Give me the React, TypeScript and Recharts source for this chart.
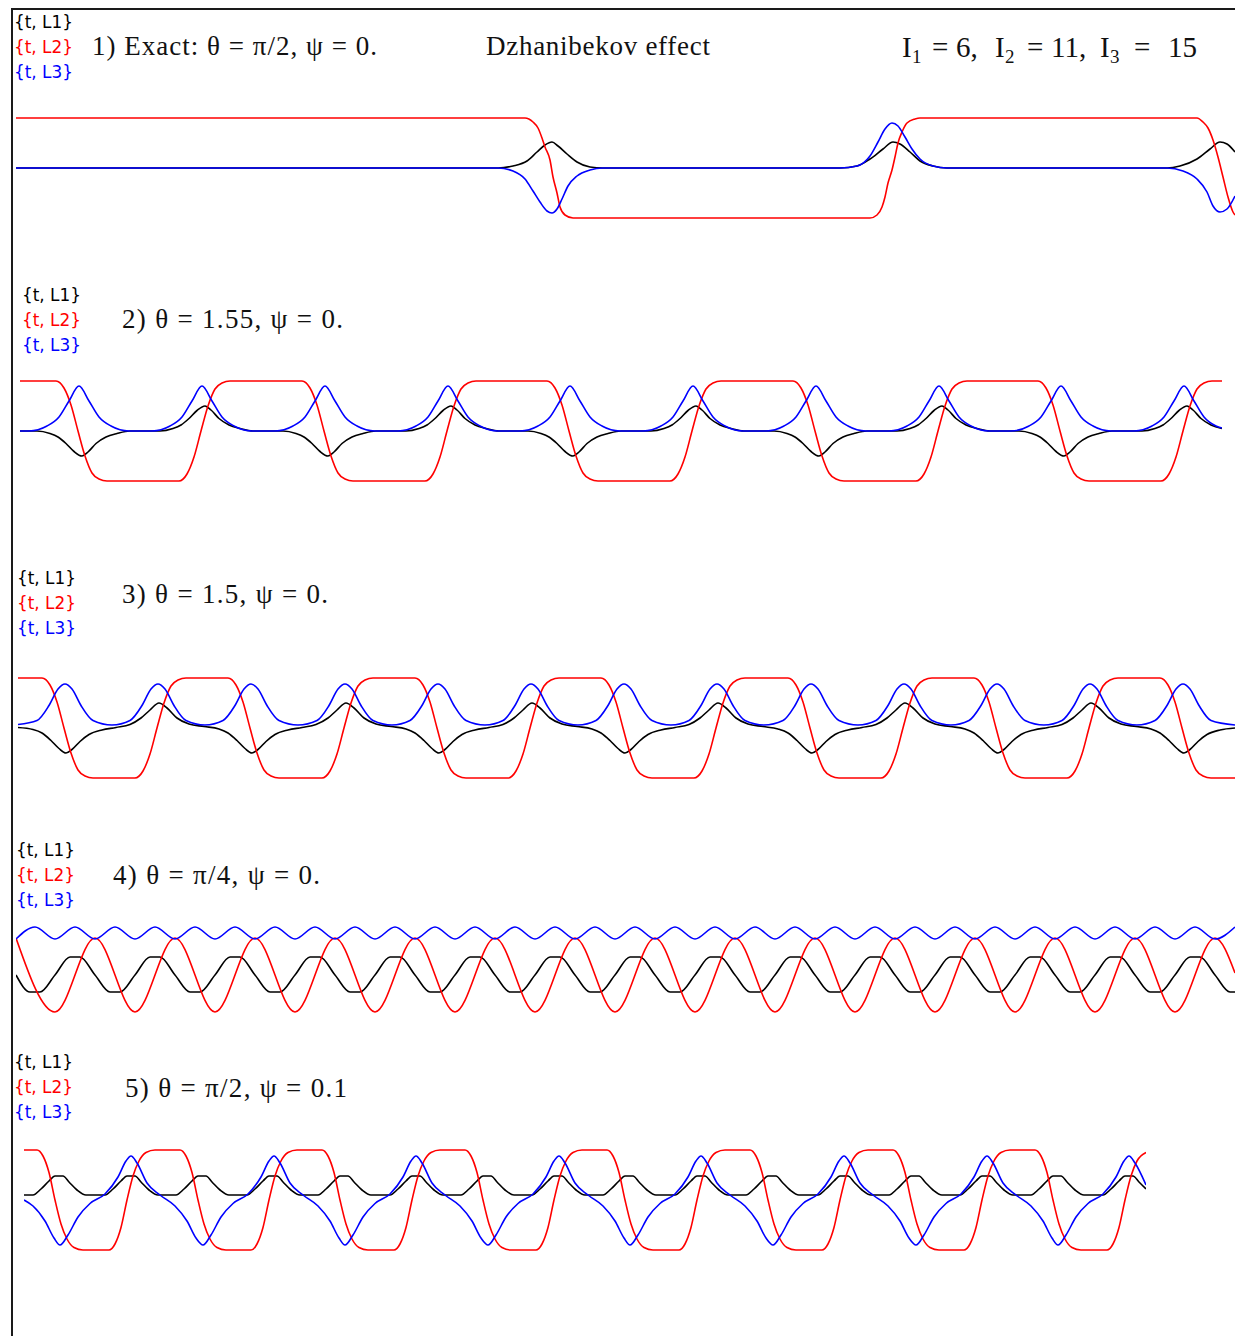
import React from 'react';
import { LineChart, Line, XAxis, YAxis } from 'recharts';

type Pt = [number, number];

// panel 1 — exact solution, theta = pi/2, psi = 0
const p1L1: Pt[] = [
  [0, 0], [48.2, 0], [49.7, 0.04], [51.1, 0.14], [52.1, 0.32], [52.9, 0.46], [53.6, 0.52], [54.2, 0.44], [55.1, 0.28], [56.1, 0.12], [57.4, 0.02], [58.7, 0],
  [82.4, 0], [84.1, 0.04], [85.4, 0.18], [86.7, 0.38], [87.7, 0.52], [88.4, 0.48], [89.4, 0.32], [90.4, 0.14], [91.7, 0.04], [93.1, 0],
  [115.1, 0], [116.4, 0.04], [118.1, 0.18], [119.4, 0.38], [120.4, 0.52], [121.1, 0.48], [121.9, 0.32],
];
const p1L2: Pt[] = [
  [0, 1], [50.9, 1], [51.7, 0.92], [52.2, 0.8], [52.6, 0.6], [52.9, 0.42], [53.4, 0.16], [53.7, -0.18], [54.1, -0.5], [54.4, -0.78], [54.9, -0.94], [55.7, -1],
  [85.4, -1], [86.1, -0.94], [86.6, -0.78], [86.9, -0.58], [87.2, -0.3], [87.6, -0.04], [87.9, 0.22], [88.2, 0.5], [88.6, 0.72], [89.1, 0.9], [89.9, 0.98], [90.4, 1],
  [118.1, 1], [118.7, 0.92], [119.2, 0.8], [119.7, 0.56], [120.2, 0.22], [120.7, -0.18], [121.2, -0.58], [121.7, -0.88], [121.9, -0.94],
];
const p1L3: Pt[] = [
  [0, 0], [48.2, 0], [49.7, -0.06], [50.9, -0.22], [51.7, -0.46], [52.4, -0.68], [53.1, -0.86], [53.6, -0.9], [54.1, -0.82], [54.6, -0.62], [55.2, -0.36], [56.1, -0.16], [57.4, -0.04], [58.7, 0],
  [82.4, 0], [84.1, 0.04], [85.4, 0.24], [86.2, 0.52], [86.9, 0.78], [87.6, 0.9], [88.2, 0.84], [88.9, 0.62], [89.6, 0.38], [90.4, 0.18], [91.7, 0.04], [93.1, 0],
  [115.1, 0], [116.7, -0.06], [118.1, -0.22], [119.1, -0.48], [119.7, -0.76], [120.4, -0.88], [121.1, -0.82], [121.9, -0.56],
];

// panel 2 — theta = 1.55
const p2L1: Pt[] = [
  [0, 0],
  [1.7, 0], [3.0, -0.05], [3.8, -0.12], [4.6, -0.25], [5.4, -0.41], [6.2, -0.5], [6.8, -0.42], [7.6, -0.25], [8.6, -0.12], [9.7, -0.05], [11.0, 0],
  [14.0, 0], [15.3, 0.05], [16.1, 0.12], [16.9, 0.25], [17.7, 0.41], [18.5, 0.5], [19.1, 0.42], [19.9, 0.25], [20.9, 0.12], [22.0, 0.05], [23.3, 0],
  [26.3, 0], [27.6, -0.05], [28.4, -0.12], [29.2, -0.25], [30.0, -0.41], [30.8, -0.5], [31.4, -0.42], [32.2, -0.25], [33.2, -0.12], [34.3, -0.05], [35.6, 0],
  [38.6, 0], [39.9, 0.05], [40.7, 0.12], [41.5, 0.25], [42.3, 0.41], [43.1, 0.5], [43.7, 0.42], [44.5, 0.25], [45.5, 0.12], [46.6, 0.05], [47.9, 0],
  [50.8, 0], [52.1, -0.05], [52.9, -0.12], [53.7, -0.25], [54.5, -0.41], [55.3, -0.5], [55.9, -0.42], [56.7, -0.25], [57.7, -0.12], [58.8, -0.05], [60.1, 0],
  [63.1, 0], [64.4, 0.05], [65.2, 0.12], [66.0, 0.25], [66.8, 0.41], [67.6, 0.5], [68.2, 0.42], [69.0, 0.25], [70.0, 0.12], [71.1, 0.05], [72.4, 0],
  [75.4, 0], [76.7, -0.05], [77.5, -0.12], [78.3, -0.25], [79.1, -0.41], [79.9, -0.5], [80.5, -0.42], [81.3, -0.25], [82.3, -0.12], [83.4, -0.05], [84.7, 0],
  [87.7, 0], [89.0, 0.05], [89.8, 0.12], [90.6, 0.25], [91.4, 0.41], [92.2, 0.5], [92.8, 0.42], [93.6, 0.25], [94.6, 0.12], [95.7, 0.05], [97.0, 0],
  [99.9, 0], [101.2, -0.05], [102.0, -0.12], [102.8, -0.25], [103.6, -0.41], [104.4, -0.5], [105.0, -0.42], [105.8, -0.25], [106.8, -0.12], [107.9, -0.05], [109.2, 0],
  [112.2, 0], [113.5, 0.05], [114.3, 0.12], [115.1, 0.25], [115.9, 0.41], [116.7, 0.5], [117.3, 0.42], [118.1, 0.25], [119.1, 0.12], [120.2, 0.05],
];
const p2L2: Pt[] = [
  [0, 1],
  [3.6, 1], [4.4, 0.86], [5.1, 0.52], [5.8, 0], [6.5, -0.5], [7.2, -0.84], [7.9, -0.96], [8.7, -1],
  [15.9, -1], [16.7, -0.86], [17.4, -0.52], [18.1, 0], [18.8, 0.5], [19.5, 0.84], [20.2, 0.96], [21.0, 1],
  [28.2, 1], [29.0, 0.86], [29.7, 0.52], [30.4, 0], [31.1, -0.5], [31.8, -0.84], [32.5, -0.96], [33.3, -1],
  [40.5, -1], [41.3, -0.86], [42.0, -0.52], [42.7, 0], [43.4, 0.5], [44.1, 0.84], [44.8, 0.96], [45.6, 1],
  [52.7, 1], [53.5, 0.86], [54.2, 0.52], [54.9, 0], [55.6, -0.5], [56.3, -0.84], [57.0, -0.96], [57.8, -1],
  [65.0, -1], [65.8, -0.86], [66.5, -0.52], [67.2, 0], [67.9, 0.5], [68.6, 0.84], [69.3, 0.96], [70.1, 1],
  [77.3, 1], [78.1, 0.86], [78.8, 0.52], [79.5, 0], [80.2, -0.5], [80.9, -0.84], [81.6, -0.96], [82.4, -1],
  [89.6, -1], [90.4, -0.86], [91.1, -0.52], [91.8, 0], [92.5, 0.5], [93.2, 0.84], [93.9, 0.96], [94.7, 1],
  [101.8, 1], [102.6, 0.86], [103.3, 0.52], [104.0, 0], [104.7, -0.5], [105.4, -0.84], [106.1, -0.96], [106.9, -1],
  [114.1, -1], [114.9, -0.86], [115.6, -0.52], [116.3, 0], [117.0, 0.5], [117.7, 0.84], [118.4, 0.96], [119.2, 1],
  [120.2, 1],
];
const p2L3: Pt[] = [
  [0, 0],
  [0.9, 0], [2.7, 0.1], [3.9, 0.28], [4.9, 0.6], [5.9, 0.9], [6.9, 0.6], [7.9, 0.28], [9.1, 0.1], [10.9, 0],
  [13.2, 0], [15.0, 0.1], [16.2, 0.28], [17.2, 0.6], [18.2, 0.9], [19.2, 0.6], [20.2, 0.28], [21.4, 0.1], [23.2, 0],
  [25.5, 0], [27.3, 0.1], [28.5, 0.28], [29.5, 0.6], [30.5, 0.9], [31.5, 0.6], [32.5, 0.28], [33.7, 0.1], [35.5, 0],
  [37.8, 0], [39.6, 0.1], [40.8, 0.28], [41.8, 0.6], [42.8, 0.9], [43.8, 0.6], [44.8, 0.28], [46.0, 0.1], [47.8, 0],
  [50.0, 0], [51.8, 0.1], [53.0, 0.28], [54.0, 0.6], [55.0, 0.9], [56.0, 0.6], [57.0, 0.28], [58.2, 0.1], [60.0, 0],
  [62.3, 0], [64.1, 0.1], [65.3, 0.28], [66.3, 0.6], [67.3, 0.9], [68.3, 0.6], [69.3, 0.28], [70.5, 0.1], [72.3, 0],
  [74.6, 0], [76.4, 0.1], [77.6, 0.28], [78.6, 0.6], [79.6, 0.9], [80.6, 0.6], [81.6, 0.28], [82.8, 0.1], [84.6, 0],
  [86.9, 0], [88.7, 0.1], [89.9, 0.28], [90.9, 0.6], [91.9, 0.9], [92.9, 0.6], [93.9, 0.28], [95.1, 0.1], [96.9, 0],
  [99.1, 0], [100.9, 0.1], [102.1, 0.28], [103.1, 0.6], [104.1, 0.9], [105.1, 0.6], [106.1, 0.28], [107.3, 0.1], [109.1, 0],
  [111.4, 0], [113.2, 0.1], [114.4, 0.28], [115.4, 0.6], [116.4, 0.9], [117.4, 0.6], [118.4, 0.28], [119.6, 0.1], [120.2, 0.06],
];

// panel 3 — theta = 1.5
const p3L1: Pt[] = [
  [0, 0.01], [1.5, -0.03], [2.4, -0.1], [3.3, -0.25], [4.1, -0.41],
  [4.8, -0.5], [5.4, -0.43], [6.2, -0.27], [7.1, -0.13], [8.4, -0.04], [9.8, 0.01], [11.2, 0.07], [12.3, 0.2], [13.2, 0.36], [14.1, 0.5], [14.9, 0.4], [15.9, 0.2], [17.1, 0.08], [18.6, 0.03], [20.1, -0.02], [21.0, -0.1], [21.9, -0.25], [22.7, -0.41],
  [23.4, -0.5], [24.0, -0.43], [24.8, -0.27], [25.7, -0.13], [27.0, -0.04], [28.4, 0.01], [29.8, 0.07], [31.0, 0.2], [31.9, 0.36], [32.8, 0.5], [33.6, 0.4], [34.6, 0.2], [35.8, 0.08], [37.3, 0.03], [38.8, -0.02], [39.7, -0.1], [40.6, -0.25], [41.4, -0.41],
  [42.1, -0.5], [42.7, -0.43], [43.5, -0.27], [44.4, -0.13], [45.7, -0.04], [47.1, 0.01], [48.5, 0.07], [49.6, 0.2], [50.5, 0.36], [51.4, 0.5], [52.2, 0.4], [53.2, 0.2], [54.4, 0.08], [55.9, 0.03], [57.4, -0.02], [58.3, -0.1], [59.2, -0.25], [60.0, -0.41],
  [60.7, -0.5], [61.3, -0.43], [62.1, -0.27], [63.0, -0.13], [64.3, -0.04], [65.7, 0.01], [67.1, 0.07], [68.2, 0.2], [69.1, 0.36], [70.0, 0.5], [70.8, 0.4], [71.8, 0.2], [73.0, 0.08], [74.5, 0.03], [76.0, -0.02], [77.0, -0.1], [77.9, -0.25], [78.7, -0.41],
  [79.4, -0.5], [80.0, -0.43], [80.8, -0.27], [81.7, -0.13], [83.0, -0.04], [84.4, 0.01], [85.8, 0.07], [86.9, 0.2], [87.8, 0.36], [88.7, 0.5], [89.5, 0.4], [90.5, 0.2], [91.7, 0.08], [93.2, 0.03], [94.7, -0.02], [95.6, -0.1], [96.5, -0.25], [97.3, -0.41],
  [98.0, -0.5], [98.6, -0.43], [99.4, -0.27], [100.3, -0.13], [101.6, -0.04], [103.0, 0.01], [104.4, 0.07], [105.5, 0.2], [106.4, 0.36], [107.3, 0.5], [108.1, 0.4], [109.1, 0.2], [110.3, 0.08], [111.8, 0.03], [113.3, -0.02], [114.2, -0.1], [115.1, -0.25], [115.9, -0.41],
  [116.6, -0.5], [117.2, -0.43], [118.0, -0.27], [118.9, -0.13], [120.2, -0.04], [121.7, 0],
];
const p3L2: Pt[] = [
  [0, 1],
  [2.4, 1], [3.2, 0.86], [3.9, 0.52], [4.6, 0], [5.3, -0.5], [6.0, -0.84], [6.7, -0.96], [7.5, -1],
  [11.7, -1], [12.5, -0.86], [13.2, -0.52], [13.9, 0], [14.6, 0.5], [15.3, 0.84], [16.0, 0.96], [16.8, 1],
  [21.0, 1], [21.8, 0.86], [22.5, 0.52], [23.2, 0], [23.9, -0.5], [24.6, -0.84], [25.3, -0.96], [26.1, -1],
  [30.4, -1], [31.2, -0.86], [31.9, -0.52], [32.6, 0], [33.3, 0.5], [34.0, 0.84], [34.7, 0.96], [35.5, 1],
  [39.7, 1], [40.5, 0.86], [41.2, 0.52], [41.9, 0], [42.6, -0.5], [43.3, -0.84], [44.0, -0.96], [44.8, -1],
  [49.0, -1], [49.8, -0.86], [50.5, -0.52], [51.2, 0], [51.9, 0.5], [52.6, 0.84], [53.3, 0.96], [54.1, 1],
  [58.3, 1], [59.1, 0.86], [59.8, 0.52], [60.5, 0], [61.2, -0.5], [61.9, -0.84], [62.6, -0.96], [63.4, -1],
  [67.6, -1], [68.4, -0.86], [69.1, -0.52], [69.8, 0], [70.5, 0.5], [71.2, 0.84], [71.9, 0.96], [72.7, 1],
  [77.0, 1], [77.8, 0.86], [78.5, 0.52], [79.2, 0], [79.9, -0.5], [80.6, -0.84], [81.3, -0.96], [82.1, -1],
  [86.3, -1], [87.1, -0.86], [87.8, -0.52], [88.5, 0], [89.2, 0.5], [89.9, 0.84], [90.6, 0.96], [91.4, 1],
  [95.6, 1], [96.4, 0.86], [97.1, 0.52], [97.8, 0], [98.5, -0.5], [99.2, -0.84], [99.9, -0.96], [100.7, -1],
  [104.9, -1], [105.7, -0.86], [106.4, -0.52], [107.1, 0], [107.8, 0.5], [108.5, 0.84], [109.2, 0.96], [110.0, 1],
  [114.2, 1], [115.0, 0.86], [115.7, 0.52], [116.4, 0], [117.1, -0.5], [117.8, -0.84], [118.5, -0.96], [119.3, -1],
  [121.7, -1],
];
const p3L3: Pt[] = [
  [0, 0.07],
  [1.9, 0.15], [3.1, 0.45], [4.0, 0.78], [4.7, 0.88], [5.4, 0.78], [6.3, 0.45], [7.5, 0.15], [9.4, 0.06],
  [11.2, 0.15], [12.4, 0.45], [13.3, 0.78], [14.0, 0.88], [14.7, 0.78], [15.6, 0.45], [16.8, 0.15], [18.7, 0.06],
  [20.5, 0.15], [21.7, 0.45], [22.6, 0.78], [23.3, 0.88], [24.0, 0.78], [24.9, 0.45], [26.1, 0.15], [28.0, 0.06],
  [29.9, 0.15], [31.1, 0.45], [32.0, 0.78], [32.7, 0.88], [33.4, 0.78], [34.3, 0.45], [35.5, 0.15], [37.4, 0.06],
  [39.2, 0.15], [40.4, 0.45], [41.3, 0.78], [42.0, 0.88], [42.7, 0.78], [43.6, 0.45], [44.8, 0.15], [46.7, 0.06],
  [48.5, 0.15], [49.7, 0.45], [50.6, 0.78], [51.3, 0.88], [52.0, 0.78], [52.9, 0.45], [54.1, 0.15], [56.0, 0.06],
  [57.8, 0.15], [59.0, 0.45], [59.9, 0.78], [60.6, 0.88], [61.3, 0.78], [62.2, 0.45], [63.4, 0.15], [65.3, 0.06],
  [67.1, 0.15], [68.3, 0.45], [69.2, 0.78], [69.9, 0.88], [70.6, 0.78], [71.5, 0.45], [72.7, 0.15], [74.6, 0.06],
  [76.5, 0.15], [77.7, 0.45], [78.6, 0.78], [79.3, 0.88], [80.0, 0.78], [80.9, 0.45], [82.1, 0.15], [84.0, 0.06],
  [85.8, 0.15], [87.0, 0.45], [87.9, 0.78], [88.6, 0.88], [89.3, 0.78], [90.2, 0.45], [91.4, 0.15], [93.3, 0.06],
  [95.1, 0.15], [96.3, 0.45], [97.2, 0.78], [97.9, 0.88], [98.6, 0.78], [99.5, 0.45], [100.7, 0.15], [102.6, 0.06],
  [104.4, 0.15], [105.6, 0.45], [106.5, 0.78], [107.2, 0.88], [107.9, 0.78], [108.8, 0.45], [110.0, 0.15], [111.9, 0.06],
  [113.7, 0.15], [114.9, 0.45], [115.8, 0.78], [116.5, 0.88], [117.2, 0.78], [118.1, 0.45], [119.3, 0.15], [121.7, 0.06],
];

// panel 4 — theta = pi/4
const p4L1: Pt[] = [
  [0, 0],
  [1.4, -0.34], [2.4, -0.34], [3.9, 0], [5.4, 0.36], [6.4, 0.36], [7.9, 0],
  [9.4, -0.34], [10.4, -0.34], [11.9, 0], [13.4, 0.36], [14.4, 0.36], [15.9, 0],
  [17.4, -0.34], [18.4, -0.34], [19.9, 0], [21.4, 0.36], [22.4, 0.36], [23.9, 0],
  [25.4, -0.34], [26.4, -0.34], [27.9, 0], [29.4, 0.36], [30.4, 0.36], [31.9, 0],
  [33.4, -0.34], [34.4, -0.34], [35.9, 0], [37.4, 0.36], [38.4, 0.36], [39.9, 0],
  [41.4, -0.34], [42.4, -0.34], [43.9, 0], [45.4, 0.36], [46.4, 0.36], [47.9, 0],
  [49.4, -0.34], [50.4, -0.34], [51.9, 0], [53.4, 0.36], [54.4, 0.36], [55.9, 0],
  [57.4, -0.34], [58.4, -0.34], [59.9, 0], [61.4, 0.36], [62.4, 0.36], [63.9, 0],
  [65.4, -0.34], [66.4, -0.34], [67.9, 0], [69.4, 0.36], [70.4, 0.36], [71.9, 0],
  [73.4, -0.34], [74.4, -0.34], [75.9, 0], [77.4, 0.36], [78.4, 0.36], [79.9, 0],
  [81.4, -0.34], [82.4, -0.34], [83.9, 0], [85.4, 0.36], [86.4, 0.36], [87.9, 0],
  [89.4, -0.34], [90.4, -0.34], [91.9, 0], [93.4, 0.36], [94.4, 0.36], [95.9, 0],
  [97.4, -0.34], [98.4, -0.34], [99.9, 0], [101.4, 0.36], [102.4, 0.36], [103.9, 0],
  [105.4, -0.34], [106.4, -0.34], [107.9, 0], [109.4, 0.36], [110.4, 0.36], [111.9, 0],
  [113.4, -0.34], [114.4, -0.34], [115.9, 0], [117.4, 0.36], [118.4, 0.36], [119.9, 0],
  [121.4, -0.34], [121.9, -0.34],
];
const p4L2: Pt[] = [
  [0, 0.74], [3.9, -0.74], [7.9, 0.74], [11.9, -0.74], [15.9, 0.74], [19.9, -0.74], [23.9, 0.74], [27.9, -0.74],
  [31.9, 0.74], [35.9, -0.74], [39.9, 0.74], [43.9, -0.74], [47.9, 0.74], [51.9, -0.74], [55.9, 0.74], [59.9, -0.74],
  [63.9, 0.74], [67.9, -0.74], [71.9, 0.74], [75.9, -0.74], [79.9, 0.74], [83.9, -0.74], [87.9, 0.74], [91.9, -0.74],
  [95.9, 0.74], [99.9, -0.74], [103.9, 0.74], [107.9, -0.74], [111.9, 0.74], [115.9, -0.74], [119.9, 0.74], [121.9, 0.04],
];
const p4L3: Pt[] = [
  [0, 0.72], [1.9, 0.96], [3.9, 0.72], [5.9, 0.96], [7.9, 0.72], [9.9, 0.96], [11.9, 0.72], [13.9, 0.96],
  [15.9, 0.72], [17.9, 0.96], [19.9, 0.72], [21.9, 0.96], [23.9, 0.72], [25.9, 0.96], [27.9, 0.72], [29.9, 0.96],
  [31.9, 0.72], [33.9, 0.96], [35.9, 0.72], [37.9, 0.96], [39.9, 0.72], [41.9, 0.96], [43.9, 0.72], [45.9, 0.96],
  [47.9, 0.72], [49.9, 0.96], [51.9, 0.72], [53.9, 0.96], [55.9, 0.72], [57.9, 0.96], [59.9, 0.72], [61.9, 0.96],
  [63.9, 0.72], [65.9, 0.96], [67.9, 0.72], [69.9, 0.96], [71.9, 0.72], [73.9, 0.96], [75.9, 0.72], [77.9, 0.96],
  [79.9, 0.72], [81.9, 0.96], [83.9, 0.72], [85.9, 0.96], [87.9, 0.72], [89.9, 0.96], [91.9, 0.72], [93.9, 0.96],
  [95.9, 0.72], [97.9, 0.96], [99.9, 0.72], [101.9, 0.96], [103.9, 0.72], [105.9, 0.96], [107.9, 0.72], [109.9, 0.96],
  [111.9, 0.72], [113.9, 0.96], [115.9, 0.72], [117.9, 0.96], [119.9, 0.72], [121.9, 0.96],
];

// panel 5 — theta = pi/2, psi = 0.1
const p5L1: Pt[] = [
  [0, 0.1],
  [0.9, 0.1], [1.7, 0.22], [2.5, 0.38], [3.1, 0.48], [3.9, 0.48], [4.5, 0.36], [5.3, 0.2], [6.2, 0.1],
  [8.1, 0.1], [8.9, 0.22], [9.7, 0.38], [10.3, 0.48], [11.1, 0.48], [11.7, 0.36], [12.5, 0.2], [13.4, 0.1],
  [15.2, 0.1], [16.0, 0.22], [16.8, 0.38], [17.4, 0.48], [18.2, 0.48], [18.8, 0.36], [19.6, 0.2], [20.5, 0.1],
  [22.3, 0.1], [23.1, 0.22], [23.9, 0.38], [24.5, 0.48], [25.3, 0.48], [25.9, 0.36], [26.7, 0.2], [27.6, 0.1],
  [29.4, 0.1], [30.2, 0.22], [31.0, 0.38], [31.6, 0.48], [32.4, 0.48], [33.0, 0.36], [33.8, 0.2], [34.7, 0.1],
  [36.6, 0.1], [37.4, 0.22], [38.2, 0.38], [38.8, 0.48], [39.6, 0.48], [40.2, 0.36], [41.0, 0.2], [41.9, 0.1],
  [43.7, 0.1], [44.5, 0.22], [45.3, 0.38], [45.9, 0.48], [46.7, 0.48], [47.3, 0.36], [48.1, 0.2], [49.0, 0.1],
  [50.8, 0.1], [51.6, 0.22], [52.4, 0.38], [53.0, 0.48], [53.8, 0.48], [54.4, 0.36], [55.2, 0.2], [56.1, 0.1],
  [57.9, 0.1], [58.7, 0.22], [59.5, 0.38], [60.1, 0.48], [60.9, 0.48], [61.5, 0.36], [62.3, 0.2], [63.2, 0.1],
  [65.1, 0.1], [65.9, 0.22], [66.7, 0.38], [67.3, 0.48], [68.1, 0.48], [68.7, 0.36], [69.5, 0.2], [70.4, 0.1],
  [72.2, 0.1], [73.0, 0.22], [73.8, 0.38], [74.4, 0.48], [75.2, 0.48], [75.8, 0.36], [76.6, 0.2], [77.5, 0.1],
  [79.4, 0.1], [80.2, 0.22], [81.0, 0.38], [81.6, 0.48], [82.4, 0.48], [83.0, 0.36], [83.8, 0.2], [84.7, 0.1],
  [86.5, 0.1], [87.3, 0.22], [88.1, 0.38], [88.7, 0.48], [89.5, 0.48], [90.1, 0.36], [90.9, 0.2], [91.8, 0.1],
  [93.6, 0.1], [94.4, 0.22], [95.2, 0.38], [95.8, 0.48], [96.6, 0.48], [97.2, 0.36], [98.0, 0.2], [98.9, 0.1],
  [100.7, 0.1], [101.5, 0.22], [102.3, 0.38], [102.9, 0.48], [103.7, 0.48], [104.3, 0.36], [105.1, 0.2], [106.0, 0.1],
  [107.9, 0.1], [108.7, 0.22], [109.5, 0.38], [110.1, 0.48], [110.9, 0.48], [111.5, 0.36], [112.2, 0.22],
];
const p5L2: Pt[] = [
  [0, 1],
  [1.3, 1], [1.9, 0.88], [2.5, 0.55], [3.1, 0], [3.7, -0.48], [4.3, -0.78], [5.0, -0.95], [5.9, -1],
  [8.5, -1], [9.1, -0.88], [9.7, -0.55], [10.3, 0], [10.9, 0.48], [11.5, 0.78], [12.2, 0.95], [13.1, 1],
  [15.6, 1], [16.2, 0.88], [16.8, 0.55], [17.4, 0], [18.0, -0.48], [18.6, -0.78], [19.3, -0.95], [20.2, -1],
  [22.7, -1], [23.3, -0.88], [23.9, -0.55], [24.5, 0], [25.1, 0.48], [25.7, 0.78], [26.4, 0.95], [27.3, 1],
  [29.8, 1], [30.4, 0.88], [31.0, 0.55], [31.6, 0], [32.2, -0.48], [32.8, -0.78], [33.5, -0.95], [34.4, -1],
  [37.0, -1], [37.6, -0.88], [38.2, -0.55], [38.8, 0], [39.4, 0.48], [40.0, 0.78], [40.7, 0.95], [41.6, 1],
  [44.1, 1], [44.7, 0.88], [45.3, 0.55], [45.9, 0], [46.5, -0.48], [47.1, -0.78], [47.8, -0.95], [48.7, -1],
  [51.2, -1], [51.8, -0.88], [52.4, -0.55], [53.0, 0], [53.6, 0.48], [54.2, 0.78], [54.9, 0.95], [55.8, 1],
  [58.3, 1], [58.9, 0.88], [59.5, 0.55], [60.1, 0], [60.7, -0.48], [61.3, -0.78], [62.0, -0.95], [62.9, -1],
  [65.5, -1], [66.1, -0.88], [66.7, -0.55], [67.3, 0], [67.9, 0.48], [68.5, 0.78], [69.2, 0.95], [70.1, 1],
  [72.6, 1], [73.2, 0.88], [73.8, 0.55], [74.4, 0], [75.0, -0.48], [75.6, -0.78], [76.3, -0.95], [77.2, -1],
  [79.8, -1], [80.4, -0.88], [81.0, -0.55], [81.6, 0], [82.2, 0.48], [82.8, 0.78], [83.5, 0.95], [84.4, 1],
  [86.9, 1], [87.5, 0.88], [88.1, 0.55], [88.7, 0], [89.3, -0.48], [89.9, -0.78], [90.6, -0.95], [91.5, -1],
  [94.0, -1], [94.6, -0.88], [95.2, -0.55], [95.8, 0], [96.4, 0.48], [97.0, 0.78], [97.7, 0.95], [98.6, 1],
  [101.1, 1], [101.7, 0.88], [102.3, 0.55], [102.9, 0], [103.5, -0.48], [104.1, -0.78], [104.8, -0.95], [105.7, -1],
  [108.3, -1], [108.9, -0.88], [109.5, -0.55], [110.1, 0], [110.7, 0.48], [111.3, 0.78], [112.2, 0.95],
];
const p5L3: Pt[] = [
  [0, 0], [0.9, -0.12], [2.1, -0.42], [3.0, -0.76],
  [3.6, -0.9], [4.4, -0.7], [5.4, -0.34], [6.6, -0.07], [8.1, 0.12], [9.4, 0.46], [10.2, 0.78], [10.7, 0.88], [11.3, 0.74], [12.3, 0.34], [13.6, 0.1], [15.1, -0.12], [16.3, -0.42], [17.2, -0.76],
  [17.9, -0.9], [18.7, -0.7], [19.7, -0.34], [20.9, -0.07], [22.4, 0.12], [23.7, 0.46], [24.5, 0.78], [25.0, 0.88], [25.6, 0.74], [26.6, 0.34], [27.9, 0.1], [29.4, -0.12], [30.6, -0.42], [31.5, -0.76],
  [32.1, -0.9], [32.9, -0.7], [33.9, -0.34], [35.1, -0.07], [36.6, 0.12], [37.9, 0.46], [38.7, 0.78], [39.2, 0.88], [39.8, 0.74], [40.8, 0.34], [42.1, 0.1], [43.6, -0.12], [44.8, -0.42], [45.7, -0.76],
  [46.4, -0.9], [47.2, -0.7], [48.2, -0.34], [49.4, -0.07], [50.9, 0.12], [52.2, 0.46], [53.0, 0.78], [53.5, 0.88], [54.1, 0.74], [55.1, 0.34], [56.4, 0.1], [57.9, -0.12], [59.1, -0.42], [60.0, -0.76],
  [60.6, -0.9], [61.4, -0.7], [62.4, -0.34], [63.6, -0.07], [65.1, 0.12], [66.4, 0.46], [67.2, 0.78], [67.7, 0.88], [68.3, 0.74], [69.3, 0.34], [70.6, 0.1], [72.1, -0.12], [73.3, -0.42], [74.2, -0.76],
  [74.9, -0.9], [75.7, -0.7], [76.7, -0.34], [77.9, -0.07], [79.4, 0.12], [80.7, 0.46], [81.5, 0.78], [82.0, 0.88], [82.6, 0.74], [83.6, 0.34], [84.9, 0.1], [86.4, -0.12], [87.6, -0.42], [88.5, -0.76],
  [89.2, -0.9], [90.0, -0.7], [91.0, -0.34], [92.2, -0.07], [93.7, 0.12], [95.0, 0.46], [95.8, 0.78], [96.3, 0.88], [96.9, 0.74], [97.9, 0.34], [99.2, 0.1], [100.7, -0.12], [101.9, -0.42], [102.8, -0.76],
  [103.4, -0.9], [104.2, -0.7], [105.2, -0.34], [106.4, -0.07], [107.9, 0.12], [109.2, 0.46], [110.0, 0.78], [110.5, 0.88], [111.1, 0.74], [112.2, 0.3],
];

// moments of inertia shown in the header
const moments = [
  { sub: '1', value: '6,', x: 902, eqX: 932, valX: 956 },
  { sub: '2', value: '11,', x: 995, eqX: 1027, valX: 1051 },
  { sub: '3', value: '15', x: 1100, eqX: 1134, valX: 1168 },
];

const rows = (pts: Pt[]) => pts.map(([t, v]) => ({ t, v }));

interface PanelProps {
  left: number;
  center: number;
  width: number;
  tEnd: number;
  l1: Pt[];
  l2: Pt[];
  l3: Pt[];
}

// 50px per unit of L vertically, 10px per unit of t horizontally
const Panel: React.FC<PanelProps> = ({ left, center, width, tEnd, l1, l2, l3 }) => (
  <div style={{ position: 'absolute', left, top: center - 60 }}>
    <LineChart width={width} height={120} margin={{ top: 0, right: 0, bottom: 0, left: 0 }}>
      <XAxis type="number" dataKey="t" domain={[0, tEnd]} hide />
      <YAxis type="number" domain={[-1.2, 1.2]} hide />
      <Line data={rows(l1)} dataKey="v" type="monotone" stroke="#000000" strokeWidth={1.6} dot={false} activeDot={false} isAnimationActive={false} />
      <Line data={rows(l2)} dataKey="v" type="monotone" stroke="#ff0000" strokeWidth={1.6} dot={false} activeDot={false} isAnimationActive={false} />
      <Line data={rows(l3)} dataKey="v" type="monotone" stroke="#0000ff" strokeWidth={1.6} dot={false} activeDot={false} isAnimationActive={false} />
    </LineChart>
  </div>
);

const Legend: React.FC<{ x: number; y: number }> = ({ x, y }) => (
  <g fontFamily="'DejaVu Sans', sans-serif" fontSize={17}>
    <text x={x} y={y} fill="#000" textLength={59} lengthAdjust="spacingAndGlyphs">{'{t, L1}'}</text>
    <text x={x} y={y + 25} fill="#ff0000" textLength={59} lengthAdjust="spacingAndGlyphs">{'{t, L2}'}</text>
    <text x={x} y={y + 50} fill="#0000ff" textLength={59} lengthAdjust="spacingAndGlyphs">{'{t, L3}'}</text>
  </g>
);

const serif = "'Liberation Serif', 'Times New Roman', serif";

const App: React.FC = () => (
  <div style={{ position: 'absolute', left: 0, top: 0, width: 1235, height: 1336, background: '#fff', overflow: 'hidden' }}>
    <div style={{ position: 'absolute', left: 11, top: 8, width: 1224, height: 2, background: '#1a1a1a' }} />
    <div style={{ position: 'absolute', left: 11, top: 8, width: 2, height: 1328, background: '#1a1a1a' }} />

    <Panel left={16} center={168} width={1219} tEnd={121.9} l1={p1L1} l2={p1L2} l3={p1L3} />
    <Panel left={20} center={431} width={1202} tEnd={120.2} l1={p2L1} l2={p2L2} l3={p2L3} />
    <Panel left={18} center={728} width={1217} tEnd={121.7} l1={p3L1} l2={p3L2} l3={p3L3} />
    <Panel left={16} center={975} width={1219} tEnd={121.9} l1={p4L1} l2={p4L2} l3={p4L3} />
    <Panel left={24} center={1200} width={1122} tEnd={112.2} l1={p5L1} l2={p5L2} l3={p5L3} />

    <svg width={1235} height={1336} style={{ position: 'absolute', left: 0, top: 0, pointerEvents: 'none' }}>
      <Legend x={14} y={28} />
      <Legend x={22} y={301} />
      <Legend x={17} y={584} />
      <Legend x={16} y={856} />
      <Legend x={14} y={1068} />

      <g fontFamily={serif} fontSize={27} fill="#111">
        <text x={92} y={55} textLength={285} lengthAdjust="spacing">1) Exact: θ = π/2, ψ = 0.</text>
        <text x={486} y={55} textLength={224} lengthAdjust="spacing">Dzhanibekov effect</text>
        <text x={122} y={328} textLength={221} lengthAdjust="spacing">2) θ = 1.55, ψ = 0.</text>
        <text x={122} y={603} textLength={206} lengthAdjust="spacing">3) θ = 1.5, ψ = 0.</text>
        <text x={113} y={884} textLength={207} lengthAdjust="spacing">4) θ = π/4, ψ = 0.</text>
        <text x={125} y={1097} textLength={222} lengthAdjust="spacing">5) θ = π/2, ψ = 0.1</text>
      </g>
      <g fontFamily={serif} fill="#111">
        {moments.map((m) => (
          <g key={m.sub}>
            <text x={m.x} y={57} fontSize={29}>I</text>
            <text x={m.x + 10} y={63} fontSize={19}>{m.sub}</text>
            <text x={m.eqX} y={57} fontSize={29}>=</text>
            <text x={m.valX} y={57} fontSize={29}>{m.value}</text>
          </g>
        ))}
      </g>
    </svg>
  </div>
);

export default App;
